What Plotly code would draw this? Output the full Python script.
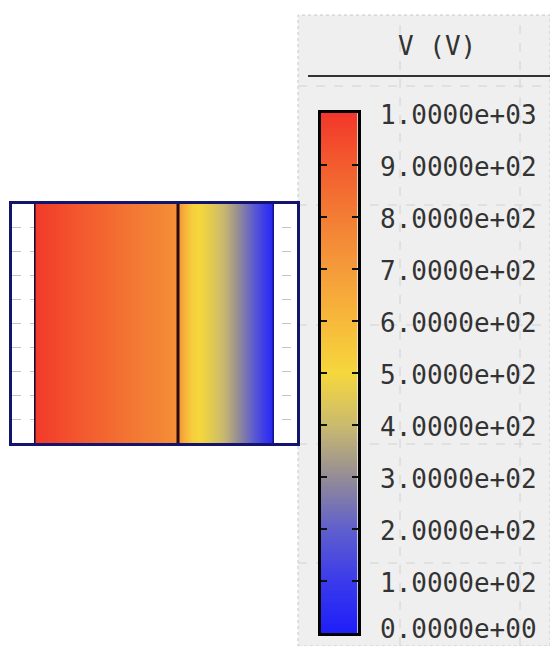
import numpy as np
import plotly.graph_objects as go

# ---- data ----
position_um = [0.0, 1.0, 2.0, 3.0, 4.0, 5.0, 6.0, 6.2, 6.6, 7.0, 7.5, 8.0, 8.5, 9.0, 9.5, 10.0]
potential_v = [990, 950, 905, 865, 820, 780, 735, 640, 525, 490, 440, 380, 300, 215, 120, 20]
region_boundaries = [0.0, 6.0, 10.0]
cb_tick_values = [0, 100, 200, 300, 400, 500, 600, 700, 800, 900, 1000]
cb_tick_labels = ["0.0000e+00", "1.0000e+02", "2.0000e+02", "3.0000e+02", "4.0000e+02",
                  "5.0000e+02", "6.0000e+02", "7.0000e+02", "8.0000e+02", "9.0000e+02",
                  "1.0000e+03"]
cb_title = "V (V)"

# ---- style ----
W, H = 550, 646
def px(x): return x / W
def py(y): return 1 - y / H

colorscale = [
    [0.00, "rgb(30,30,250)"],
    [0.10, "rgb(58,58,235)"],
    [0.20, "rgb(95,95,205)"],
    [0.30, "rgb(148,140,150)"],
    [0.40, "rgb(202,186,110)"],
    [0.50, "rgb(245,215,60)"],
    [0.60, "rgb(247,185,58)"],
    [0.70, "rgb(245,155,58)"],
    [0.80, "rgb(243,125,52)"],
    [0.90, "rgb(243,92,46)"],
    [1.00, "rgb(242,55,42)"],
]
font_mono = "DejaVu Sans Mono"
label_font = dict(family=font_mono, size=26, color="#333333")
zmin, zmax = cb_tick_values[0], cb_tick_values[-1]

fig = go.Figure()

# invisible trace to keep the frame subplot alive
fig.add_trace(go.Scatter(x=[], y=[], xaxis="x", yaxis="y", hoverinfo="skip"))

# device potential map (own subplot so it is clipped to the active region)
fig.add_trace(go.Heatmap(
    x=position_um, y=[-5, 5], z=[potential_v, potential_v],
    colorscale=colorscale, zmin=zmin, zmax=zmax, zsmooth="best",
    showscale=False, hoverinfo="skip", xaxis="x3", yaxis="y3"))

# colour bar as its own axis
cb_levels = np.linspace(zmin, zmax, 401)
fig.add_trace(go.Heatmap(
    x=[0, 1], y=cb_levels, z=[[v, v] for v in cb_levels],
    colorscale=colorscale, zmin=zmin, zmax=zmax, zsmooth="best",
    showscale=False, hoverinfo="skip", xaxis="x2", yaxis="y2"))

shapes = []
# grey legend panel
shapes.append(dict(type="rect", xref="paper", yref="paper", x0=px(298), x1=1.0, y0=0, y1=py(15),
                   fillcolor="#efefef", line=dict(color="#c8c8c8", width=1, dash="dot"), layer="below"))
for gx in [400, 520]:
    shapes.append(dict(type="line", xref="paper", yref="paper", x0=px(gx), x1=px(gx), y0=0, y1=py(15),
                       line=dict(color="#d2d2d2", width=1, dash="dash"), layer="below"))
for gy in [86, 205, 325, 444, 563]:
    shapes.append(dict(type="line", xref="paper", yref="paper", x0=px(298), x1=1.0, y0=py(gy), y1=py(gy),
                       line=dict(color="#d2d2d2", width=1, dash="dash"), layer="below"))
# separator under title
shapes.append(dict(type="line", xref="paper", yref="paper", x0=px(308), x1=1.0, y0=py(76), y1=py(76),
                   line=dict(color="#333333", width=2)))
# region boundaries
bcolors = ["#1a0a30", "#2a0a0a", "#14148a"]
for xb, c in zip(region_boundaries, bcolors):
    shapes.append(dict(type="line", xref="x3", yref="y3", x0=xb, x1=xb, y0=-5, y1=5,
                       line=dict(color=c, width=3)))

x_lo, x_hi = -0.92, 10.96
def dx(u): return px(12 + (u - x_lo) / (x_hi - x_lo) * 285)

annotations = [dict(xref="paper", yref="paper", x=px(437), y=py(46), text=cb_title,
                    showarrow=False, xanchor="center", yanchor="middle", font=label_font)]
for v, t in zip(cb_tick_values, cb_tick_labels):
    if v == zmin:
        # lowest label sits against the bottom edge of the window
        annotations.append(dict(xref="paper", yref="paper", x=px(378), y=0, text=t,
                                showarrow=False, xanchor="left", yanchor="bottom",
                                font=label_font))
    else:
        annotations.append(dict(xref="paper", yref="y2", x=px(378), y=v, text=t,
                                showarrow=False, xanchor="left", yanchor="middle",
                                yshift=-2, font=label_font))

fig.update_layout(
    width=W, height=H, margin=dict(l=0, r=0, t=0, b=0),
    paper_bgcolor="white", plot_bgcolor="rgba(0,0,0,0)",
    showlegend=False,
    shapes=shapes,
    annotations=annotations,
    xaxis=dict(domain=[px(12), px(297)], range=[x_lo, x_hi], showticklabels=False, ticks="",
               showgrid=False, zeroline=False, showline=True, mirror=True,
               linecolor="#14146e", linewidth=3),
    yaxis=dict(domain=[py(443), py(204)], range=[-5, 5], showticklabels=False, ticks="",
               showgrid=True, gridcolor="#c4c4c4", griddash="dash", dtick=1,
               zeroline=False,
               showline=True, mirror=True, linecolor="#14146e", linewidth=3),
    xaxis3=dict(domain=[dx(region_boundaries[0]), dx(region_boundaries[-1])],
                range=[region_boundaries[0], region_boundaries[-1]], anchor="y3",
                visible=False),
    yaxis3=dict(domain=[py(443), py(204)], range=[-5, 5], anchor="x3", visible=False),
    xaxis2=dict(domain=[px(320.5), px(357.5)], range=[0, 1], anchor="y2",
                showticklabels=False, ticks="", showgrid=False, zeroline=False,
                showline=True, mirror=True, linecolor="black", linewidth=3),
    yaxis2=dict(domain=[py(633), py(113)], range=[zmin, zmax], anchor="x2", side="right",
                tickvals=cb_tick_values, showticklabels=False,
                ticks="inside", ticklen=6, tickwidth=2, tickcolor="#111111",
                mirror="ticks", showline=True, linecolor="black", linewidth=3,
                showgrid=False, zeroline=False),
)

fig.write_html("out.html",
               config={"displayModeBar": False},
               post_script="document.body.style.margin='0';"
                           "document.documentElement.style.overflow='hidden';")
